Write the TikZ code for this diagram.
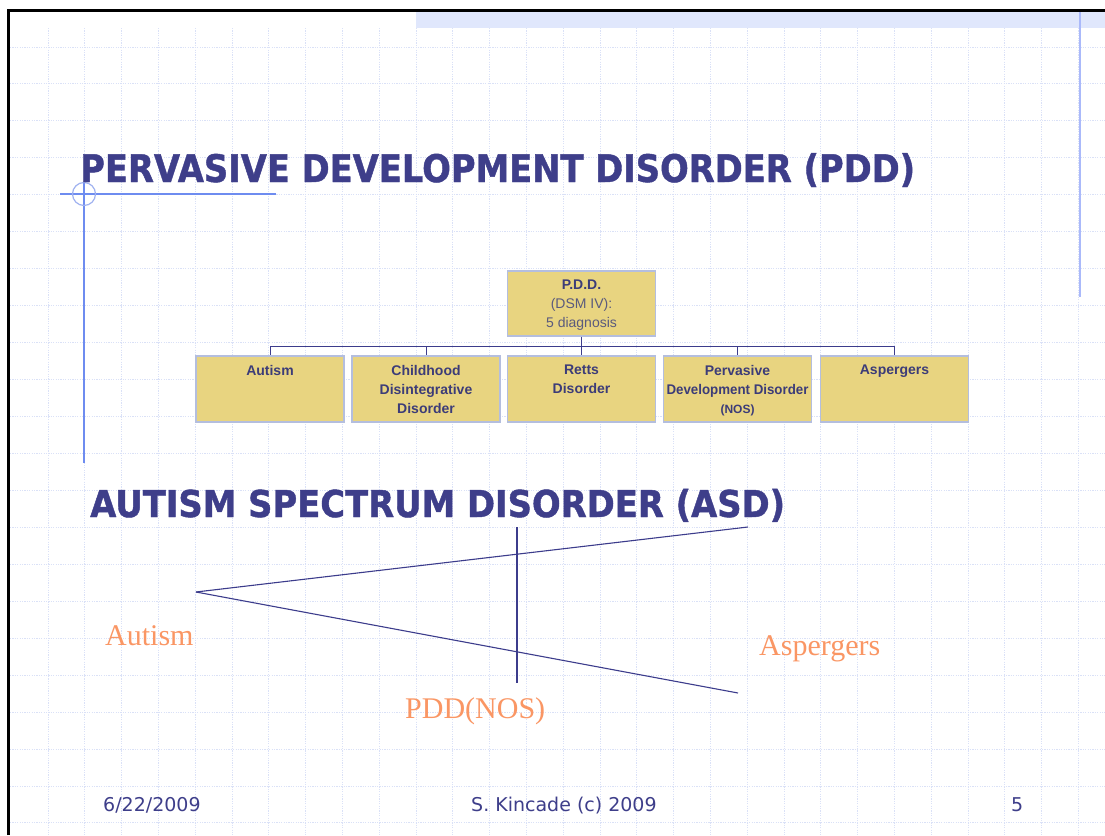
\documentclass[tikz,border=0pt]{standalone}
\usepackage{fontspec}
\usepackage{graphicx}
\setmainfont{Liberation Serif}
\newfontfamily\verd{DejaVu Sans}
\newfontfamily\verdheavy[FakeBold=1.2]{DejaVu Sans Bold}
\newfontfamily\arialf{Liberation Sans}
\definecolor{titleblue}{RGB}{62,62,138}
\definecolor{boxfill}{RGB}{232,212,128}
\definecolor{boxdraw}{RGB}{180,190,222}
\definecolor{charttxt}{RGB}{60,60,120}
\definecolor{graytxt}{RGB}{90,90,125}
\definecolor{orangelab}{RGB}{250,150,100}
\definecolor{gridc}{RGB}{218,225,247}
\definecolor{bandc}{RGB}{224,231,252}
\definecolor{bluelinec}{RGB}{170,185,250}
\definecolor{crossc}{RGB}{110,140,240}
\definecolor{circc}{RGB}{160,178,240}
\definecolor{linec}{RGB}{60,60,140}
\tikzset{
  gridline/.style={draw=gridc, line width=1pt, dash pattern=on 1.2pt off 1.2pt},
  pbox/.style={draw=boxdraw, line width=1.4pt, fill=boxfill, minimum width=148pt, minimum height=66pt, inner sep=0pt},
  ctext/.style={text=charttxt, font=\arialf\bfseries\fontsize{14}{19}\selectfont, align=center, inner sep=0pt, anchor=north},
  conn/.style={draw=linec, line width=1pt},
  heading/.style={text=titleblue, inner sep=0pt, anchor=base west},
  footer/.style={text=titleblue, font=\verd\fontsize{19}{22}\selectfont, inner sep=0pt, anchor=base west},
  olab/.style={text=orangelab, font=\fontsize{30}{34}\selectfont, inner sep=0pt, anchor=base west},
  vline/.style={draw=linec, line width=1.1pt}
}
\begin{document}
\begin{tikzpicture}[x=1pt,y=-1pt]
\useasboundingbox (0,0) rectangle (1105,835);
\fill[white] (0,0) rectangle (1105,835);
% grid
\foreach \k in {0,...,28} {
  \draw[gridline] ({48+36.8*\k},28) -- ({48+36.8*\k},835);
}
\foreach \k in {0,...,21} {
  \draw[gridline] (10,{47+36.95*\k}) -- (1105,{47+36.95*\k});
}
% top band
\fill[bandc] (416,12) rectangle (1105,28);
% frame
\draw[black, line width=2.2pt] (8.5,835) -- (8.5,10.5) -- (1105,10.5);
% blue decorative lines
\draw[bluelinec, line width=2pt] (1080,12) -- (1080,297);
\draw[crossc, line width=1.2pt] (60,194) -- (276,194);
\draw[crossc, line width=1.2pt] (84,183) -- (84,463);
\draw[circc, line width=1.2pt] (84,194) circle (11.5);

% titles
\node[heading] (title1) at (80,182) {\resizebox{835pt}{\height}{\verdheavy\fontsize{38}{40}\selectfont PERVASIVE DEVELOPMENT DISORDER (PDD)}};
\node[heading] (title2) at (90,517) {\resizebox{695pt}{\height}{\verdheavy\fontsize{37}{40}\selectfont AUTISM SPECTRUM DISORDER (ASD)}};

% org chart
\node[pbox, minimum height=65pt] (pdd) at (581.5,303.5) {};
\node[pbox] (autism) at (270,389) {};
\node[pbox] (cdd) at (426,389) {};
\node[pbox] (retts) at (581.5,389) {};
\node[pbox] (pddnos) at (737.5,389) {};
\node[pbox] (asp) at (894.5,389) {};

\node[ctext] (pddT) at (581.5,280) {P.D.D.\\[-0.5pt]{\mdseries\color{graytxt}(DSM IV):}\\{\mdseries\color{graytxt}5 diagnosis}};
\node[ctext] (autismT) at (270,365) {Autism};
\node[ctext] (cddT) at (426,365) {Childhood\\Disintegrative\\Disorder};
\node[ctext] (rettsT) at (581.5,365) {Retts\\Disorder};
\node[ctext] (pddnosT) at (737.5,365) {Pervasive\\\resizebox{142pt}{\height}{Development Disorder}\\{\fontsize{12}{19}\selectfont (NOS)}};
\node[ctext] (aspT) at (894.5,365) {Aspergers};

\draw[conn] (pdd.south) -- ++(0,10) coordinate (bus);
\draw[conn] (bus) -| (autism.north);
\draw[conn] (bus) -| (cdd.north);
\draw[conn] (bus) -- (retts.north);
\draw[conn] (bus) -| (pddnos.north);
\draw[conn] (bus) -| (asp.north);

% ASD diagram
\coordinate (vtx) at (196,592);
\coordinate (upend) at (748,527);
\coordinate (lowend) at (738,693);
\coordinate (vtop) at (517,527);
\coordinate (vbot) at (517,683);
\draw[vline] (vtx) -- (upend);
\draw[vline] (vtx) -- (lowend);
\draw[vline] (vtop) -- (vbot);

\node[olab] (labAut) at (105,645) {Autism};
\node[olab] (labNos) at (405,718) {PDD(NOS)};
\node[olab] (labAsp) at (759,655) {Aspergers};

% footer
\node[footer] (date) at (103,811) {6/22/2009};
\node[footer] (author) at (471,811) {S. Kincade (c) 2009};
\node[footer] (page) at (1011,811) {5};
\end{tikzpicture}
\end{document}
